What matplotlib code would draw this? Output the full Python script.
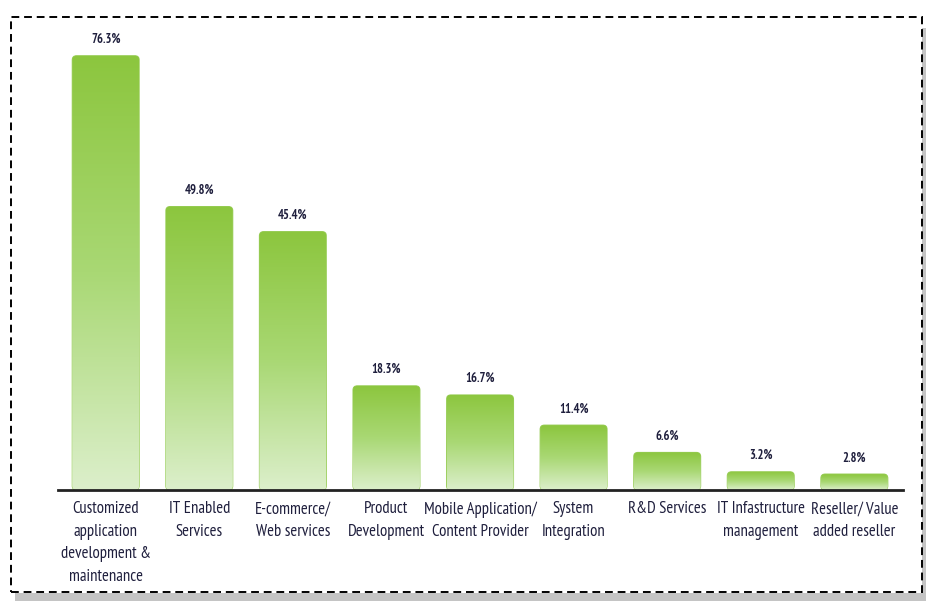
import numpy as np
import matplotlib.pyplot as plt
from matplotlib.patches import FancyBboxPatch, Rectangle
from matplotlib.colors import LinearSegmentedColormap

categories = [
    "Customized\napplication\ndevelopment &\nmaintenance",
    "IT Enabled\nServices",
    "E-commerce/\nWeb services",
    "Product\nDevelopment",
    "Mobile Application/\nContent Provider",
    "System\nIntegration",
    "R&D Services",
    "IT Infastructure\nmanagement",
    "Reseller/ Value\nadded reseller",
]
values = [76.3, 49.8, 45.4, 18.3, 16.7, 11.4, 6.6, 3.2, 2.8]
value_labels = ["76.3%", "49.8%", "45.4%", "18.3%", "16.7%", "11.4%", "6.6%", "3.2%", "2.8%"]

plt.rcParams["font.family"] = ["PT Sans Narrow", "Roboto Condensed", "DejaVu Sans"]
text_color = "#1f1f3d"

fig = plt.figure(figsize=(9.26, 6.01), dpi=100)
W, H = 926, 601

# shadow + dashed frame
fig.patches.append(Rectangle((15 / W, 0), (926 - 15) / W, 8 / H, transform=fig.transFigure,
                             facecolor="#c4c4c4", edgecolor="none", zorder=0))
fig.patches.append(Rectangle((922 / W, 0), 4 / W, (601 - 28) / H, transform=fig.transFigure,
                             facecolor="#c4c4c4", edgecolor="none", zorder=0))
fig.patches.append(Rectangle((11 / W, 9 / H), 911 / W, (592 - 17) / H, transform=fig.transFigure,
                             facecolor="white", edgecolor="black", linestyle=(0, (4, 2.5)),
                             linewidth=1.4, zorder=1))

ax = fig.add_axes([58 / W, (601 - 490) / H, (903 - 58) / W, (490 - 29) / H])
ax.set_zorder(2)
ax.patch.set_alpha(0)

x = np.arange(len(values))
width = 0.715
bars = ax.bar(x, values, width=width, color="none", edgecolor="none")

ax.set_xlim(-0.51, 8.52)
ax.set_ylim(0, 81)

cmap = LinearSegmentedColormap.from_list("grn", ["#dcefcb", "#a9d874", "#8cc63e"])
grad = np.linspace(0, 1, 256).reshape(-1, 1)
aspect = (93.6 / 5.69)

for b, v in zip(bars, values):
    x0 = b.get_x()
    w = b.get_width()
    clip = FancyBboxPatch((x0, 0), w, v,
                          boxstyle="round,pad=0,rounding_size=0.045",
                          mutation_aspect=aspect,
                          facecolor="none", edgecolor="#9ccf5e", linewidth=0.8,
                          transform=ax.transData)
    ax.add_patch(clip)
    im = ax.imshow(grad, extent=(x0, x0 + w, 0, v), origin="lower", cmap=cmap,
                   aspect="auto", interpolation="bicubic", zorder=1)
    im.set_clip_path(clip)

for xi, v, lab in zip(x, values, value_labels):
    ax.annotate(lab, (xi, v), xytext=(0, 7), textcoords="offset points",
                ha="center", va="bottom", fontsize=9, fontweight="bold",
                color=text_color)

ax.set_xticks(x)
ax.set_xticklabels(categories, fontsize=12, color=text_color, linespacing=1.55)
ax.tick_params(axis="x", length=0, pad=8)
ax.set_yticks([])
for s in ["top", "left", "right"]:
    ax.spines[s].set_visible(False)
ax.spines["bottom"].set_linewidth(2)
ax.spines["bottom"].set_color("#222222")

fig.savefig("out.png", dpi=100)
